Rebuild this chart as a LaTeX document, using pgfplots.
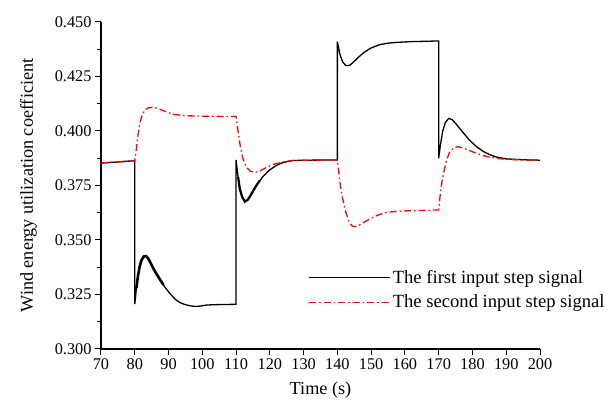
\documentclass[border=0pt]{standalone}
\usepackage{fontspec}
\setmainfont{Liberation Serif}
\usepackage{pgfplots}
\pgfplotsset{compat=1.18}
\begin{document}
\begin{tikzpicture}[font=\fontsize{16.3}{19}\selectfont]
\begin{axis}[
  scale only axis, width=439pt, height=327pt,
  xmin=70, xmax=200, ymin=0.3, ymax=0.45,
  axis x line*=bottom, axis y line*=left,
  axis line style={line width=1.1pt, black},
  xtick={70,80,...,200},
  ytick={0.300,0.325,0.350,0.375,0.400,0.425,0.450},
  minor y tick num=1,
  tick align=outside,
  major tick length=6pt, minor tick length=3.5pt,
  every tick/.style={black, line width=1pt},
  /pgf/number format/assume math mode=true,
  tick label style={font=\fontsize{16.3}{19}\selectfont},
  yticklabel style={/pgf/number format/fixed, /pgf/number format/fixed zerofill, /pgf/number format/precision=3},
  scaled y ticks=false,
  xlabel={Time (s)},
  label style={font=\fontsize{18.2}{21}\selectfont},
  xlabel style={yshift=-5pt},
  ylabel={Wind energy utilization coefficient},
  ylabel style={yshift=11pt},
  legend cell align=left,
  legend style={at={(0.47,0.25)}, anchor=north west, draw=none, fill=none, row sep=6pt, inner sep=1pt, font=\fontsize{18.6}{21.5}\selectfont},
  legend image code/.code={\draw[#1] (0pt,0pt) -- (81pt,0pt);},
]
\addplot[black, line width=1.3pt] coordinates {
(70,0.3853)(75,0.3858)(80,0.3864)
(80.001,0.3206)(80.3,0.3250)(80.7,0.3310)(81.2,0.3360)(81.8,0.3400)(82.5,0.3423)(83.3,0.3428)(84,0.3415)(85,0.3385)(86,0.3355)(87.5,0.3318)(89,0.3282)(90.5,0.3253)(92,0.3228)(93.5,0.3212)(95,0.3203)(96.5,0.3198)(98,0.3195)(99.5,0.3197)(101,0.3201)(103,0.3203)(106,0.3204)(109.999,0.3205)
(110,0.3867)(110.5,0.3800)(111,0.3740)(111.7,0.3700)(112.6,0.3676)(113.5,0.3685)(114.5,0.3710)(116,0.3750)(118,0.3792)(120,0.3822)(122,0.3843)(124,0.3856)(126.5,0.3864)(130,0.3866)(140,0.3867)
(140.001,0.4410)(140.7,0.4355)(141.5,0.4318)(142.5,0.4300)(143.5,0.4300)(144.5,0.4312)(146,0.4335)(148,0.4362)(150,0.4381)(152.5,0.4396)(155,0.4403)(158,0.4407)(162,0.4410)(170,0.4413)
(170.001,0.3875)(170.5,0.3935)(171.2,0.4000)(172,0.4040)(173,0.4058)(174,0.4052)(175,0.4035)(177,0.3997)(179,0.3960)(181,0.3931)(183,0.3908)(185,0.3892)(187,0.3881)(190,0.3872)(195,0.3868)(200,0.3866)
};
\addlegendentry{The first input step signal}
\addplot[red, line width=1.3pt, dash pattern=on 7pt off 3pt on 1.5pt off 3pt] coordinates {
(70,0.3853)(75,0.3858)(80,0.3864)(80.5,0.3920)(81,0.3985)(81.5,0.4035)(82.2,0.4075)(83,0.4096)(84,0.4106)(85.2,0.4109)(86.5,0.4105)(88,0.4096)(90,0.4084)(92,0.4075)(95,0.4070)(100,0.4068)(105,0.4067)(110,0.4066)
(110.5,0.4010)(111.2,0.3935)(112,0.3875)(113,0.3835)(114.3,0.3815)(115.6,0.3810)(117,0.3815)(119,0.3833)(121.5,0.3849)(124,0.3858)(126.5,0.3864)(130,0.3866)(140,0.3867)
(140.4,0.3815)(140.8,0.3760)(141.5,0.3695)(142.3,0.3638)(143.3,0.3590)(144.3,0.3565)(145.3,0.3561)(146.5,0.3568)(148,0.3582)(150,0.3600)(152,0.3614)(154,0.3625)(157,0.3631)(161,0.3634)(166,0.3636)(170,0.3638)
(170.4,0.3700)(170.9,0.3760)(171.5,0.3810)(172.3,0.3865)(173.3,0.3905)(174.5,0.3924)(175.8,0.3928)(177.5,0.3920)(180,0.3905)(182.5,0.3890)(185,0.3880)(187.5,0.3874)(190,0.3870)(195,0.3867)(200,0.3866)
};
\addlegendentry{The second input step signal}
\addplot[black, line width=2.6pt, forget plot] coordinates {
(80.5,0.3280)(80.9,0.3330)(81.4,0.3375)(82,0.3408)(82.7,0.3425)(83.4,0.3426)(84.2,0.3410)(85,0.3385)(86,0.3355)(87.5,0.3318)(88.5,0.3294)
};
\addplot[black, line width=2.2pt, forget plot] coordinates {
(110.6,0.3790)(111.1,0.3735)(111.8,0.3698)(112.6,0.3676)(113.5,0.3685)(114.5,0.3710)(116,0.3750)(117,0.3772)
};
\end{axis}
\path ([xshift=-101pt,yshift=-54pt]current axis.south west) rectangle ([xshift=71pt,yshift=22pt]current axis.north east);
\end{tikzpicture}
\end{document}
